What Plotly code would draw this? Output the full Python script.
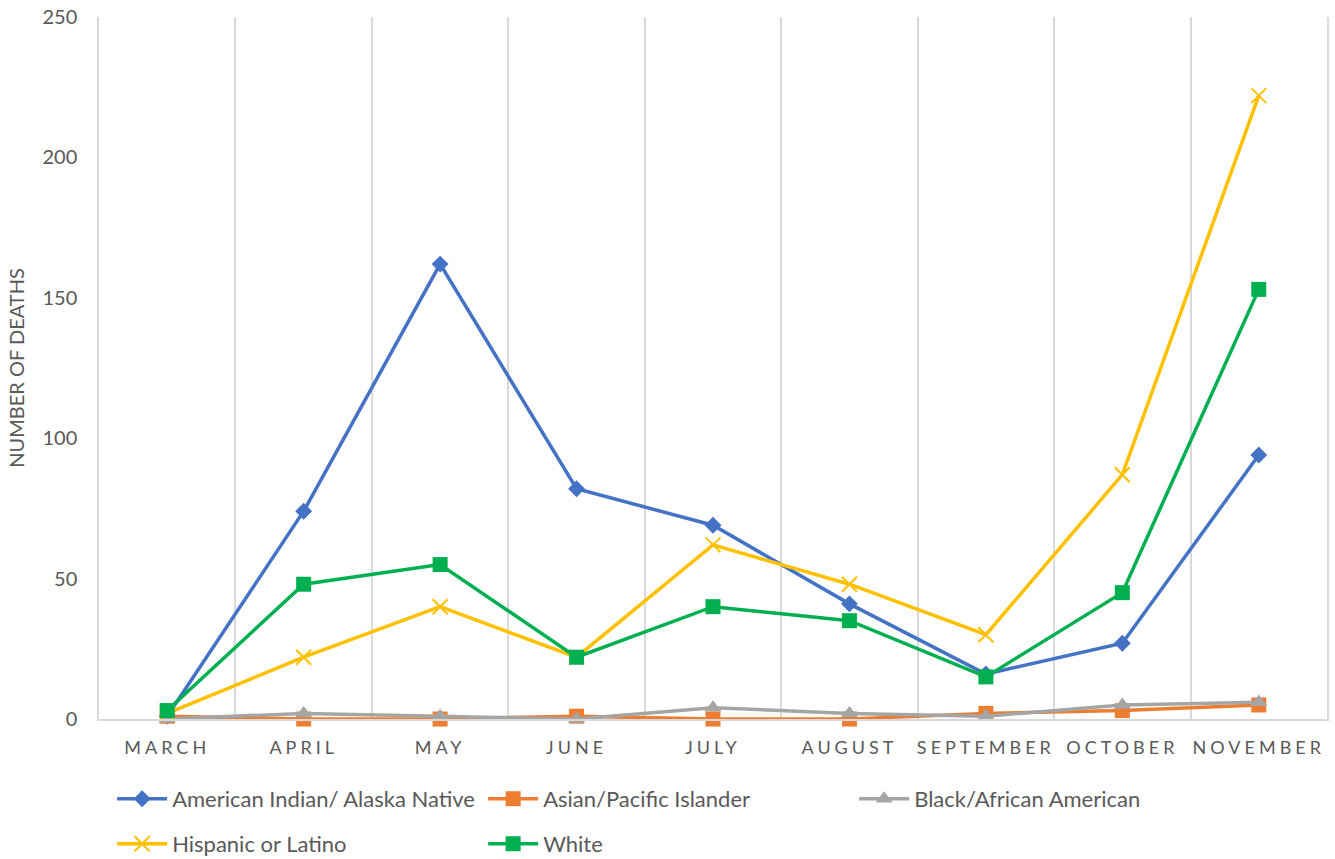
import plotly.graph_objects as go

months = ["MARCH", "APRIL", "MAY", "JUNE", "JULY", "AUGUST", "SEPTEMBER", "OCTOBER", "NOVEMBER"]
american_indian = [1, 74, 162, 82, 69, 41, 16, 27, 94]
asian_pacific = [1, 0, 0, 1, 0, 0, 2, 3, 5]
black_african = [0, 2, 1, 0, 4, 2, 1, 5, 6]
hispanic_latino = [2, 22, 40, 22, 62, 48, 30, 87, 222]
white = [3, 48, 55, 22, 40, 35, 15, 45, 153]
y_ticks = [0, 50, 100, 150, 200, 250]

series = [
    ("American Indian/ Alaska Native", american_indian, "#4472C4", "diamond", 13, None, "legend"),
    ("Asian/Pacific Islander", asian_pacific, "#ED7D31", "square", 15, None, "legend"),
    ("Black/African American", black_african, "#A5A5A5", "triangle-up", 15, None, "legend"),
    ("Hispanic or Latino", hispanic_latino, "#FFC000", "x-thin", 15, 2, "legend2"),
    ("White", white, "#00B050", "square", 15, None, "legend2"),
]

fig = go.Figure()
for name, vals, color, sym, size, lw, lg in series:
    marker = dict(symbol=sym, size=size, color=color)
    if lw:
        marker["line"] = dict(color=color, width=lw)
    fig.add_trace(go.Scatter(
        x=months, y=vals, name=name, mode="lines+markers",
        line=dict(color=color, width=3.5), marker=marker, legend=lg,
        cliponaxis=False,
    ))

font_family = "Lato, 'Open Sans', sans-serif"
legend_common = dict(
    orientation="h", xref="container", x=0.084, xanchor="left",
    yref="container", yanchor="middle",
    entrywidth=306, entrywidthmode="pixels",
    font=dict(size=22, color="#595959"), itemwidth=50,
    bgcolor="rgba(0,0,0,0)",
)
fig.update_layout(
    width=1335, height=859,
    margin=dict(l=99, r=8, t=17, b=140, autoexpand=False),
    paper_bgcolor="white", plot_bgcolor="white",
    font=dict(family=font_family, color="#595959"),
    xaxis=dict(
        type="category", range=[-0.5, 8.5], tickson="boundaries",
        showgrid=True, gridcolor="#D9D9D9", gridwidth=1.5,
        showline=True, linecolor="#D9D9D9", linewidth=1.5,
        ticks="", tickfont=dict(size=18, color="#595959"),
        ticklabelstandoff=12, automargin=False,
    ),
    yaxis=dict(
        range=[0, 250], tickvals=y_ticks, showgrid=False, zeroline=False,
        showline=True, mirror=True, linecolor="#D9D9D9", linewidth=1.5,
        ticks="", tickfont=dict(size=20, color="#595959"),
        title=dict(text="NUMBER OF DEATHS", font=dict(size=20, color="#595959"), standoff=12),
        ticklabelstandoff=16, automargin=False,
    ),
    legend=dict(y=1 - 799 / 859, **legend_common),
    legend2=dict(y=1 - 844 / 859, **legend_common),
    showlegend=True,
)

post = """
document.body.style.margin='0';
function sp(){document.querySelectorAll('.xtick text').forEach(function(t){t.style.letterSpacing='4px';});}
sp(); setTimeout(sp, 50); setTimeout(sp, 300);
"""
fig.write_html("out.html", post_script=post, config={"displayModeBar": False})
